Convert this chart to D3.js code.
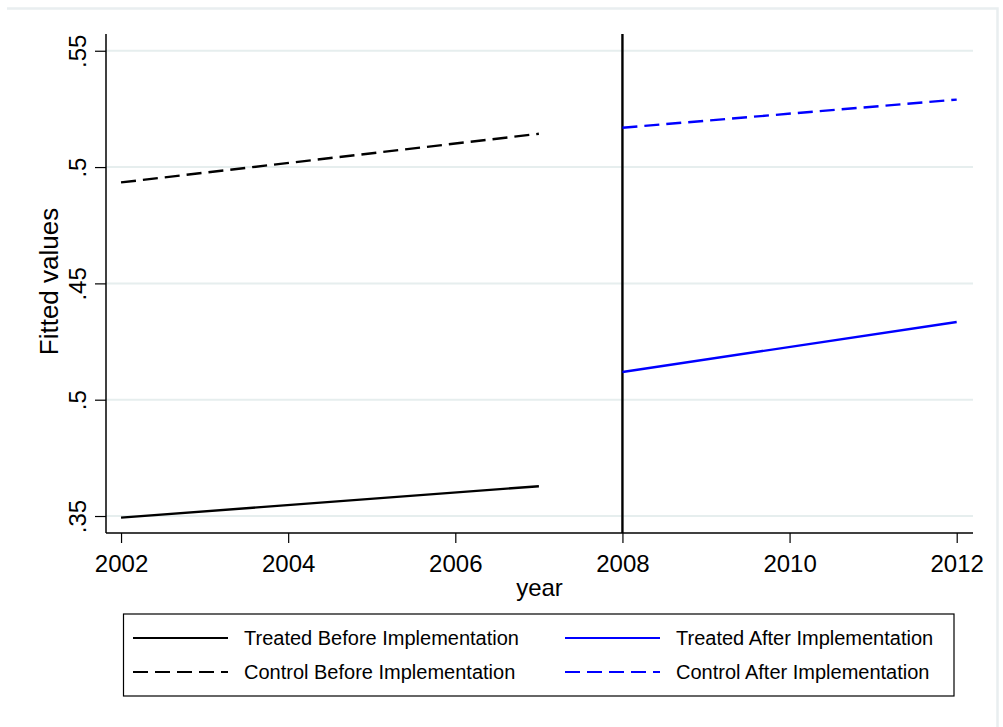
<!DOCTYPE html>
<html>
<head>
<meta charset="utf-8">
<script src="https://cdn.jsdelivr.net/npm/d3@7"></script>
<style>
  html, body { margin: 0; padding: 0; background: #ffffff; }
  svg { display: block; }
  svg text { font-family: "Liberation Sans", Arial, sans-serif; }
</style>
</head>
<body>
<svg id="chart" width="1003" height="727"></svg>
<script>
// Fitted values by year, before and after the 2008 implementation
const yearsBefore = [2002, 2007];
const yearsAfter = [2008, 2012];
const treatedBefore = [0.3493, 0.3628];
const controlBefore = [0.4934, 0.5143];
const treatedAfter = [0.4119, 0.4334];
const controlAfter = [0.5169, 0.5290];

const cutoffYear = 2008;
const xTicks = [2002, 2004, 2006, 2008, 2010, 2012];
const yTicks = [0.35, 0.40, 0.45, 0.50, 0.55];
const yTickLabels = [".35", ".5", ".45", ".5", ".55"];

const legendItems = [
  { label: "Treated Before Implementation", color: "#000000", dashed: false },
  { label: "Treated After Implementation", color: "#0000ff", dashed: false },
  { label: "Control Before Implementation", color: "#000000", dashed: true },
  { label: "Control After Implementation", color: "#0000ff", dashed: true }
];

const FONT = "'Liberation Sans', Arial, sans-serif";
const svg = d3.select("#chart");
const plot = { left: 106, right: 973, top: 34, bottom: 533 };

const x = d3.scaleLinear().domain([2001.82, 2012.195]).range([plot.left, plot.right]);
const y = d3.scaleLinear().domain([0.3427, 0.5572]).range([plot.bottom, plot.top]);

// outer graph region edge
svg.append("path")
  .attr("d", "M7,8.5 H997.5 V727")
  .attr("fill", "none")
  .attr("stroke", "#e9eef0")
  .attr("stroke-width", 2.5);

// horizontal grid
svg.append("g")
  .selectAll("line")
  .data(yTicks)
  .join("line")
  .attr("x1", plot.left)
  .attr("x2", plot.right)
  .attr("y1", d => y(d))
  .attr("y2", d => y(d))
  .attr("stroke", "#e6eeee")
  .attr("stroke-width", 2);

// y axis
const yAxis = d3.axisLeft(y)
  .tickValues(yTicks)
  .tickSize(11)
  .tickPadding(9)
  .tickFormat((d, i) => yTickLabels[i]);
const gy = svg.append("g")
  .attr("transform", `translate(${plot.left},0)`)
  .call(yAxis)
  .attr("font-family", FONT)
  .attr("font-size", 24);
gy.select(".domain")
  .attr("d", `M0,${plot.top}V${plot.bottom}`)
  .attr("stroke", "#000").attr("stroke-width", 1.5);
gy.selectAll(".tick line").attr("stroke", "#000").attr("stroke-width", 1.2);
gy.selectAll(".tick text")
  .attr("fill", "#000")
  .attr("text-anchor", "middle")
  .attr("dy", 0)
  .attr("transform", "rotate(-90)")
  .attr("x", 0)
  .attr("y", -20.5);

// x axis
const xAxis = d3.axisBottom(x)
  .tickValues(xTicks)
  .tickSize(10)
  .tickPadding(10)
  .tickFormat(d3.format("d"));
const gx = svg.append("g")
  .attr("transform", `translate(0,${plot.bottom})`)
  .call(xAxis)
  .attr("font-family", FONT)
  .attr("font-size", 24);
gx.select(".domain")
  .attr("d", `M${plot.left},0H${plot.right}`)
  .attr("stroke", "#000").attr("stroke-width", 1.5);
gx.selectAll(".tick line").attr("stroke", "#000").attr("stroke-width", 1.2);
gx.selectAll(".tick text")
  .attr("fill", "#000")
  .attr("dy", 0)
  .attr("y", 38.5);

// axis titles
svg.append("text")
  .attr("x", (plot.left + plot.right) / 2)
  .attr("y", 596)
  .attr("text-anchor", "middle")
  .attr("font-size", 24)
  .text("year");

svg.append("text")
  .attr("transform", `translate(58,${(plot.top + plot.bottom) / 2 - 2}) rotate(-90)`)
  .attr("text-anchor", "middle")
  .attr("font-size", 26)
  .text("Fitted values");

// cutoff line
svg.append("line")
  .attr("x1", x(cutoffYear)).attr("x2", x(cutoffYear))
  .attr("y1", plot.top).attr("y2", plot.bottom)
  .attr("stroke", "#000").attr("stroke-width", 2.4);

// fitted lines
const line = d3.line().x(d => x(d[0])).y(d => y(d[1]));
const series = [
  { years: yearsBefore, values: treatedBefore, color: "#000000", dashed: false },
  { years: yearsBefore, values: controlBefore, color: "#000000", dashed: true },
  { years: yearsAfter, values: treatedAfter, color: "#0000ff", dashed: false },
  { years: yearsAfter, values: controlAfter, color: "#0000ff", dashed: true }
];
svg.append("g")
  .selectAll("path")
  .data(series)
  .join("path")
  .attr("d", s => line(s.years.map((yr, i) => [yr, s.values[i]])))
  .attr("fill", "none")
  .attr("stroke", s => s.color)
  .attr("stroke-width", 2.4)
  .attr("stroke-dasharray", s => s.dashed ? "15,7" : null);

// legend
const legend = svg.append("g");
legend.append("rect")
  .attr("x", 123.5).attr("y", 614)
  .attr("width", 830.5).attr("height", 82)
  .attr("fill", "#fff")
  .attr("stroke", "#000").attr("stroke-width", 1.2);

const colX = [133, 565];
const rowY = [638, 672];
legendItems.forEach((item, i) => {
  const cx = colX[i % 2];
  const ry = rowY[Math.floor(i / 2)];
  legend.append("line")
    .attr("x1", cx).attr("x2", cx + 95)
    .attr("y1", ry).attr("y2", ry)
    .attr("stroke", item.color)
    .attr("stroke-width", 2.2)
    .attr("stroke-dasharray", item.dashed ? "15,7" : null);
  legend.append("text")
    .attr("x", cx + 111)
    .attr("y", ry + 7)
    .attr("font-size", 20)
    .attr("fill", "#000")
    .text(item.label);
});
</script>
</body>
</html>
